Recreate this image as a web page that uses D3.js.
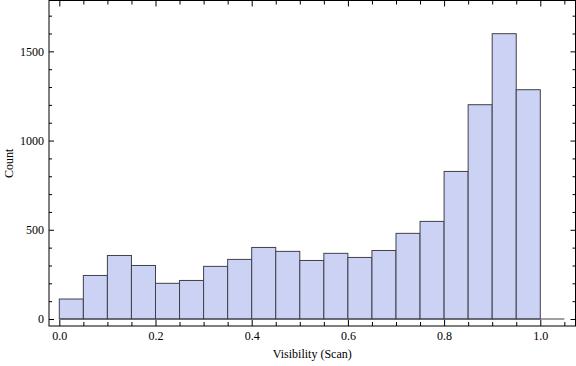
<!DOCTYPE html>
<html>
<head>
<meta charset="utf-8">
<script src="https://cdn.jsdelivr.net/npm/d3@7"></script>
<style>
  html, body { margin: 0; padding: 0; background: #fff; }
  svg { display: block; }
  text { font-family: "Liberation Serif", "DejaVu Serif", serif; }
</style>
</head>
<body>
<svg id="chart" width="576" height="366"></svg>
<script>
const binStarts = [0.00, 0.05, 0.10, 0.15, 0.20, 0.25, 0.30, 0.35, 0.40, 0.45,
                   0.50, 0.55, 0.60, 0.65, 0.70, 0.75, 0.80, 0.85, 0.90, 0.95];
const binEnds   = [0.05, 0.10, 0.15, 0.20, 0.25, 0.30, 0.35, 0.40, 0.45, 0.50,
                   0.55, 0.60, 0.65, 0.70, 0.75, 0.80, 0.85, 0.90, 0.95, 1.00];
const counts    = [112, 244, 356, 300, 200, 216, 295, 334, 401, 379,
                   328, 368, 345, 384, 480, 547, 827, 1201, 1599, 1285];
const xMajorTicks = [0.0, 0.2, 0.4, 0.6, 0.8, 1.0];
const xMinorTicks = [0.05, 0.10, 0.15, 0.25, 0.30, 0.35, 0.45, 0.50, 0.55, 0.65, 0.70, 0.75, 0.85, 0.90, 0.95, 1.05];
const yMajorTicks = [0, 500, 1000, 1500];
const yMinorTicks = [100, 200, 300, 400, 600, 700, 800, 900, 1100, 1200, 1300, 1400, 1600, 1700];
const xLabel = "Visibility (Scan)";
const yLabel = "Count";

(function () {
const svg = d3.select("#chart");
const mLeft = 49, mRight = 575.5, mTop = 0.5, mBottom = 326;
const x = d3.scaleLinear().domain([-0.02141, 1.0732]).range([mLeft, mRight]);
const y = d3.scaleLinear().domain([-39.2, 1785]).range([mBottom, mTop]);

const fmtX = d3.format(".1f");
const fmtY = d3.format("d");

// bars
const bins = binStarts.map((s, i) => ({x0: s, x1: binEnds[i], c: counts[i]}));
svg.append("g").selectAll("rect").data(bins).join("rect")
  .attr("x", d => x(d.x0))
  .attr("y", d => y(d.c))
  .attr("width", d => x(d.x1) - x(d.x0))
  .attr("height", d => y(0) - y(d.c))
  .attr("fill", "#cbd2f4")
  .attr("stroke", "#40404a")
  .attr("stroke-width", 1);

// zero axis line
svg.append("line")
  .attr("x1", x(0)).attr("x2", x(1.05))
  .attr("y1", y(0)).attr("y2", y(0))
  .attr("stroke", "#40404a").attr("stroke-width", 1);

function styleAxis(g) {
  g.select(".domain").remove();
  g.selectAll("line").attr("stroke", "#000");
  g.selectAll("text").attr("fill", "#000").style("font-size", "12px")
    .style("font-family", '"Liberation Serif", serif');
}

// bottom axis
svg.append("g").attr("transform", `translate(0,${mBottom})`)
  .call(d3.axisBottom(x).tickValues(xMajorTicks).tickSize(-6).tickPadding(5.5).tickFormat(fmtX))
  .call(styleAxis);
svg.append("g").attr("transform", `translate(0,${mBottom})`)
  .call(d3.axisBottom(x).tickValues(xMinorTicks).tickSize(-4).tickFormat(""))
  .call(styleAxis);
// top axis
svg.append("g").attr("transform", `translate(0,${mTop})`)
  .call(d3.axisTop(x).tickValues(xMajorTicks).tickSize(-6).tickFormat(""))
  .call(styleAxis);
svg.append("g").attr("transform", `translate(0,${mTop})`)
  .call(d3.axisTop(x).tickValues(xMinorTicks).tickSize(-4).tickFormat(""))
  .call(styleAxis);
// left axis
svg.append("g").attr("transform", `translate(${mLeft},0)`)
  .call(d3.axisLeft(y).tickValues(yMajorTicks).tickSize(-5).tickPadding(5).tickFormat(fmtY))
  .call(styleAxis);
svg.append("g").attr("transform", `translate(${mLeft},0)`)
  .call(d3.axisLeft(y).tickValues(yMinorTicks).tickSize(-3).tickFormat(""))
  .call(styleAxis);
// right axis
svg.append("g").attr("transform", `translate(${mRight},0)`)
  .call(d3.axisRight(y).tickValues(yMajorTicks).tickSize(-5).tickFormat(""))
  .call(styleAxis);
svg.append("g").attr("transform", `translate(${mRight},0)`)
  .call(d3.axisRight(y).tickValues(yMinorTicks).tickSize(-3).tickFormat(""))
  .call(styleAxis);

// frame
svg.append("rect")
  .attr("x", mLeft).attr("y", mTop)
  .attr("width", mRight - mLeft).attr("height", mBottom - mTop)
  .attr("fill", "none").attr("stroke", "#000").attr("stroke-width", 1);

// labels
svg.append("text")
  .attr("x", (mLeft + mRight) / 2).attr("y", 358)
  .attr("text-anchor", "middle")
  .style("font-size", "12px").attr("fill", "#000")
  .text(xLabel);
svg.append("text")
  .attr("transform", `translate(13,${(mTop + mBottom) / 2}) rotate(-90)`)
  .attr("text-anchor", "middle")
  .style("font-size", "12px").attr("fill", "#000")
  .text(yLabel);
})();
</script>
</body>
</html>
